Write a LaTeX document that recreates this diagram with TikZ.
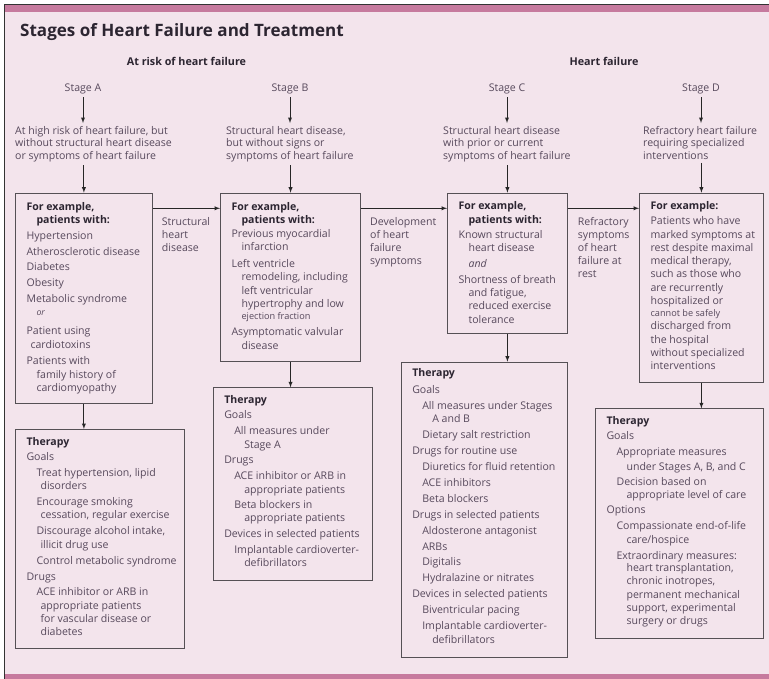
\documentclass[tikz,border=0pt]{standalone}
\usepackage{fontspec}
\setmainfont{Open Sans}
\usepackage{tikz}
\usetikzlibrary{arrows,shapes}
\definecolor{bgpink}{HTML}{F3E4EC}
\definecolor{barpink}{HTML}{C67A9E}
\definecolor{bodytxt}{HTML}{57495C}
\definecolor{headtxt}{HTML}{2C2531}
\definecolor{edgegray}{HTML}{555055}
\newcommand{\hdr}[1]{\textbf{\color{headtxt}#1}}
\newcommand{\indt}{\hspace*{10bp}}
\newcommand{\nxt}{\\[2.7bp]}
\newcommand{\sml}[1]{{\fontsize{9.2}{13.3}\selectfont #1}}
\newcommand{\boxtxt}[3]{\parbox[c][#2][t]{#1}{\raggedright\leftskip=11bp #3}}

\begin{document}
\begin{tikzpicture}[>=latex, yscale=-1]
      \tikzstyle{every node}=[font=\fontsize{10.6}{13.3}\selectfont, text=bodytxt]
      \tikzstyle{cbox}=[draw=edgegray, line width=1.1bp, inner sep=0pt, anchor=north west]
      \tikzstyle{stage}=[anchor=base, inner sep=3.5bp]
      \tikzstyle{desc}=[anchor=north west, align=left, inner xsep=0pt, inner ysep=3bp, font=\fontsize{10.6}{12.7}\selectfont]
      \tikzstyle{side}=[anchor=north west, align=left, inner sep=0pt, font=\fontsize{10.6}{13}\selectfont]
      \tikzstyle{conn}=[->, line width=0.9bp, draw=black!85]
      %%
  \useasboundingbox (0bp,0bp) rectangle (769bp,679bp);
  \fill [white] (0bp,0bp) rectangle (769bp,679bp);
  \fill [bgpink] (4.5bp,4.5bp) rectangle (769bp,679bp);
  \fill [barpink] (5bp,5bp) rectangle (769bp,12bp);
  \fill [barpink] (5bp,674bp) rectangle (769bp,679bp);
  \draw [line width=1.2bp, black!80] (769bp,4.5bp) -- (4.5bp,4.5bp) -- (4.5bp,679bp);
  %%
\node (title) at (20bp,36bp) [anchor=base west, inner sep=0pt, text=headtxt, font=\fontsize{17.1}{20}\selectfont\bfseries] {Stages of Heart Failure and Treatment};
  \node (risk) at (186.5bp,65.5bp) [anchor=base, text=headtxt, font=\fontsize{10.8}{12}\selectfont\bfseries] {At risk of heart failure};
  \node (hf) at (604bp,65.5bp) [anchor=base, text=headtxt, font=\fontsize{10.8}{12}\selectfont\bfseries] {Heart failure};
  \node (sA) at (83bp,91bp) [stage] {Stage A};
  \node (sB) at (290bp,91bp) [stage] {Stage B};
  \node (sC) at (507bp,91bp) [stage] {Stage C};
  \node (sD) at (701bp,91bp) [stage] {Stage D};
  \node (dA) at (15bp,123bp) [desc] {At high risk of heart failure, but\\without structural heart disease\\or symptoms of heart failure};
  \node (dB) at (226bp,123bp) [desc] {Structural heart disease,\\but without signs or\\symptoms of heart failure};
  \node (dC) at (443bp,123bp) [desc] {Structural heart disease\\with prior or current\\symptoms of heart failure};
  \node (dD) at (643bp,123bp) [desc] {Refractory heart failure\\requiring specialized\\interventions};
  \node (bA) at (15bp,192.7bp) [cbox] {\boxtxt{136.7bp}{210bp}{\rule{0pt}{17.3bp}\hdr{For example,}\\
    \indt\hdr{patients with:}\\[2bp]
    Hypertension\nxt Atherosclerotic disease\nxt Diabetes\nxt Obesity\nxt Metabolic syndrome\\[-0.6bp]
    \indt{\fontsize{8.8}{13.3}\selectfont\itshape or}\\[6bp]
    Patient using\\ \hspace*{4bp}cardiotoxins\\[3.5bp]
    Patients with\\ \indt family history of\\ \indt cardiomyopathy}};
  \node (bB) at (220bp,192.7bp) [cbox] {\boxtxt{140bp}{168.3bp}{\rule{0pt}{17.3bp}\hdr{For example,}\\
    \indt\hdr{patients with:}\\
    Previous myocardial\\ \indt infarction\\[4bp]
    Left ventricle\\ \indt remodeling, including\\ \indt left ventricular\\ \indt hypertrophy and low\\[-1.3bp]
    \indt\sml{ejection fraction}\\[3.4bp]
    Asymptomatic valvular\\ \indt disease}};
  \node (bC) at (447bp,192.7bp) [cbox] {\boxtxt{119.7bp}{140.6bp}{\rule{0pt}{16.6bp}\hdr{For example,}\\
    \indt\hdr{patients with:}\\[2.3bp]
    Known structural\\ \indt heart disease\\[2.3bp]
    \indt\textit{and}\\[2.7bp]
    Shortness of breath\\ \indt and fatigue,\\ \indt reduced exercise\\ \indt tolerance}};
  \node (bD) at (639bp,192.7bp) [cbox] {\boxtxt{123.7bp}{189bp}{\rule{0pt}{16.6bp}\hdr{For example:}\\[1.7bp]
    Patients who have\\ marked symptoms at\\ rest despite maximal\\ medical therapy,\\ such as those who\\ are recurrently\\ hospitalized or\\[-0.9bp]
    \sml{cannot be safely}\\ discharged from\\ the hospital\\ without specialized\\ interventions}};
  \node (tA) at (15bp,429bp) [cbox] {\boxtxt{169bp}{219.3bp}{\rule{0pt}{16bp}\hdr{Therapy}\\[1.7bp]
    Goals\nxt
    \indt Treat hypertension, lipid\\ \indt\hspace*{4bp}disorders\nxt
    \indt Encourage smoking\\ \indt\hspace*{4bp}cessation, regular exercise\nxt
    \indt Discourage alcohol intake,\\ \indt\hspace*{4bp}illicit drug use\nxt
    \indt Control metabolic syndrome\nxt
    Drugs\nxt
    \indt ACE inhibitor or ARB in\\ \indt\hspace*{4bp}appropriate patients\\ \indt\hspace*{4bp}for vascular disease or\\ \indt\hspace*{4bp}diabetes}};
  \node (tB) at (212.7bp,387.3bp) [cbox] {\boxtxt{159bp}{192.7bp}{\rule{0pt}{16bp}\hdr{Therapy}\\[1.7bp]
    Goals\nxt
    \indt All measures under\\ \indt\indt Stage A\nxt
    Drugs\nxt
    \indt ACE inhibitor or ARB in\\ \indt\indt appropriate patients\\[1.7bp]
    \indt Beta blockers in\\ \indt\indt appropriate patients\nxt
    Devices in selected patients\nxt
    \indt Implantable cardioverter-\\ \indt\indt defibrillators}};
  \node (tC) at (400.7bp,361.7bp) [cbox] {\boxtxt{166bp}{295.6bp}{\rule{0pt}{14.3bp}\hdr{Therapy}\\[3.4bp]
    Goals\nxt
    \indt All measures under Stages\\ \indt\indt A and B\nxt
    \indt Dietary salt restriction\nxt
    Drugs for routine use\nxt
    \indt Diuretics for fluid retention\nxt
    \indt ACE inhibitors\nxt
    \indt Beta blockers\nxt
    Drugs in selected patients\nxt
    \indt Aldosterone antagonist\nxt
    \indt ARBs\nxt
    \indt Digitalis\nxt
    \indt Hydralazine or nitrates\nxt
    Devices in selected patients\nxt
    \indt Biventricular pacing\nxt
    \indt Implantable cardioverter-\\ \indt\indt defibrillators}};
  \node (tD) at (595bp,408.3bp) [cbox] {\boxtxt{167.7bp}{230bp}{\rule{0pt}{15.7bp}\hdr{Therapy}\\[2bp]
    Goals\nxt
    \indt Appropriate measures\\[1.7bp] \indt\indt under Stages A, B, and C\\[1.7bp]
    \indt Decision based on\\ \indt\indt appropriate level of care\\[1.7bp]
    Options\nxt
    \indt Compassionate end-of-life\\ \indt\indt care/hospice\nxt
    \indt Extraordinary measures:\\[-0.6bp]
    \indt\indt heart transplantation,\\ \indt\indt chronic inotropes,\\ \indt\indt permanent mechanical\\ \indt\indt support, experimental\\ \indt\indt surgery or drugs}};
  \node (lA) at (161.7bp,217.5bp) [side] {Structural\\heart\\disease};
  \node (lB) at (370bp,217.5bp) [side] {Development\\of heart\\failure\\symptoms};
  \node (lC) at (577.7bp,217.5bp) [side] {Refractory\\symptoms\\of heart\\failure at\\rest};
  \coordinate (lvl) at (0bp,208.3bp);
  \draw [conn] (sA) -- (sA |- dA.north);
  \draw [conn] (sB) -- (sB |- dB.north);
  \draw [conn] (sC) -- (sC |- dC.north);
  \draw [conn] (sD) -- (sD |- dD.north);
  \draw [conn] (dA.south -| bA.north) -- (bA.north);
  \draw [conn] (dB.south -| bB.north) -- (bB.north);
  \draw [conn] (dC.south -| bC.north) -- (bC.north);
  \draw [conn] (dD.south -| bD.north) -- (bD.north);
  \draw [conn] (bA.east |- lvl) -- (bB.west |- lvl);
  \draw [conn] (bB.east |- lvl) -- (bC.west |- lvl);
  \draw [conn] (bC.east |- lvl) -- (bD.west |- lvl);
  \draw [conn] (bA.south) -- (bA.south |- tA.north);
  \draw [conn] (bB.south) -- (bB.south |- tB.north);
  \draw [conn] (bC.south) -- (bC.south |- tC.north);
  \draw [conn] (bD.south) -- (bD.south |- tD.north);
%

    \end{tikzpicture}
\end{document}
